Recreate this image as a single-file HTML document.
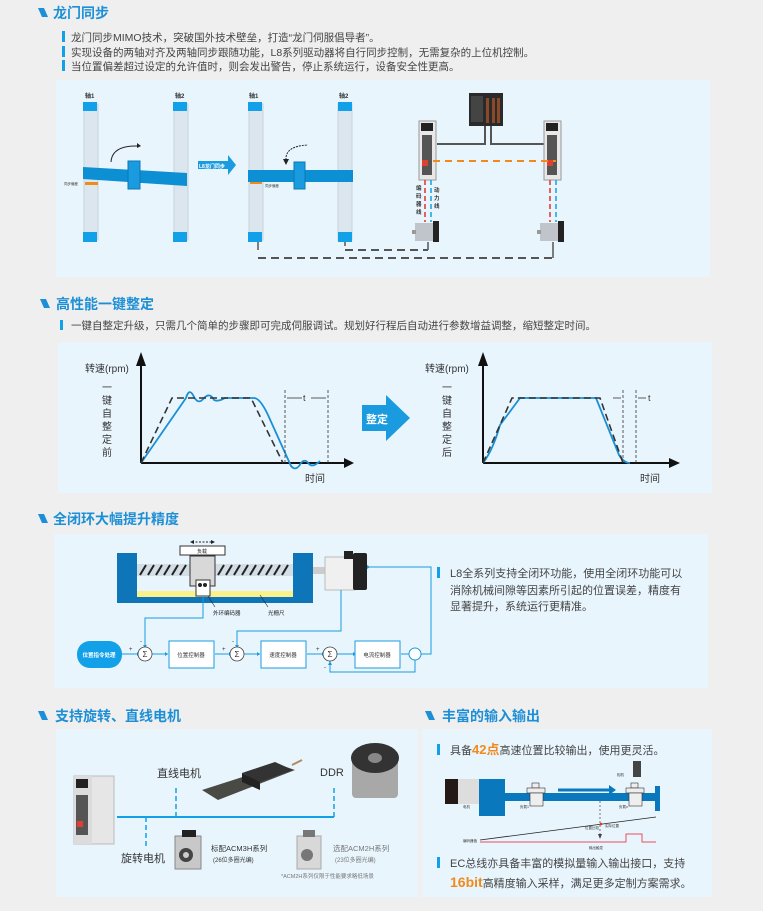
<!DOCTYPE html>
<html><head><meta charset="utf-8"><style>
html,body{margin:0;padding:0;background:#efefef;}
svg{display:block;font-family:"Liberation Sans","Noto Sans CJK SC",sans-serif;}
</style></head><body>
<svg width="763" height="911" viewBox="0 0 763 911" xmlns="http://www.w3.org/2000/svg">
<rect width="763" height="911" fill="#efefef"/>
<!-- Section 1 -->
<polygon points="38,8 44,8 48,17 42,17" fill="#1d8fd6"/>
<text x="53" y="18" font-size="14" font-weight="bold" fill="#1d8fd6">龙门同步</text>
<g font-size="10.5" fill="#444">
<rect x="62" y="31" width="3" height="11" fill="#12a0e8"/><text x="71" y="41">龙门同步MIMO技术，突破国外技术壁垒，打造“龙门伺服倡导者”。</text>
<rect x="62" y="46" width="3" height="11" fill="#12a0e8"/><text x="71" y="56">实现设备的两轴对齐及两轴同步跟随功能，L8系列驱动器将自行同步控制，无需复杂的上位机控制。</text>
<rect x="62" y="60" width="3" height="11" fill="#12a0e8"/><text x="71" y="70">当位置偏差超过设定的允许值时，则会发出警告，停止系统运行，设备安全性更高。</text>
</g>
<rect x="56" y="80" width="654" height="197" fill="#e8f5fd"/>
<g font-size="6" font-weight="bold" fill="#333">
<text x="85" y="98">轴1</text><text x="175" y="98">轴2</text><text x="249" y="98">轴1</text><text x="339" y="98">轴2</text></g>
<g fill="#dbe6ee" stroke="#c8d3dc">
<rect x="84" y="104" width="14" height="136"/><rect x="174" y="104" width="14" height="136"/>
<rect x="249" y="104" width="14" height="136"/><rect x="338" y="104" width="14" height="136"/></g>
<g fill="#12a0e8">
<rect x="83" y="102" width="14" height="9"/><rect x="173" y="102" width="14" height="9"/><rect x="83" y="232" width="14" height="10"/><rect x="173" y="232" width="14" height="10"/>
<rect x="248" y="102" width="14" height="9"/><rect x="338" y="102" width="14" height="9"/><rect x="248" y="232" width="14" height="10"/><rect x="338" y="232" width="14" height="10"/></g>
<polygon points="83,167 187,173 187,186 83,179" fill="#0d8fd3"/>
<rect x="128" y="161" width="12" height="28" fill="#1a9be0" stroke="#0b78b5"/>
<rect x="85" y="182" width="13" height="3" fill="#f08a1c"/>
<text x="64" y="185" font-size="3.5" fill="#333">同步偏差</text>
<path d="M111,162 Q112,145 139,146" stroke="#222" fill="none" stroke-width="1"/><polygon points="137,143 141,146 137,148" fill="#222"/>
<polygon points="198,161 228,161 228,155 236,165 228,175 228,169 198,169" fill="#1a9be0"/>
<text x="199" y="168" font-size="5" font-weight="bold" fill="#fff">L8龙门同步</text>
<rect x="248" y="170" width="105" height="12" fill="#0d8fd3"/>
<rect x="294" y="162" width="11" height="27" fill="#1a9be0" stroke="#0b78b5"/>
<rect x="250" y="182" width="12" height="2" fill="#f08a1c"/>
<text x="265" y="187" font-size="3.5" fill="#333">同步偏差</text>
<path d="M286,160 Q285,146 308,145" stroke="#222" fill="none" stroke-dasharray="2,1"/><polygon points="283,159 286,165 289,159" fill="#222"/>
<!-- controller -->
<rect x="469" y="93" width="34" height="33" fill="#2a2a2a"/>
<g fill="#8a4a2a"><rect x="486" y="98" width="3" height="25"/><rect x="492" y="98" width="3" height="25"/><rect x="497" y="98" width="3" height="25"/></g>
<rect x="471" y="96" width="12" height="26" fill="#444"/>
<g stroke="#555" stroke-width="2" fill="none"><path d="M485,126 V144 H437"/><path d="M491,126 V144 H545"/></g>
<!-- drivers -->
<g><rect x="419" y="121" width="17" height="59" fill="#e8e8e8" stroke="#999"/><rect x="421" y="123" width="12" height="8" fill="#222"/><rect x="422" y="135" width="10" height="40" fill="#555"/><rect x="422" y="160" width="6" height="6" fill="#e04030"/></g>
<g><rect x="544" y="121" width="17" height="59" fill="#e8e8e8" stroke="#999"/><rect x="546" y="123" width="12" height="8" fill="#222"/><rect x="547" y="135" width="10" height="40" fill="#555"/><rect x="547" y="160" width="6" height="6" fill="#e04030"/></g>
<line x1="433" y1="161" x2="556" y2="161" stroke="#f08a1c" stroke-width="2" stroke-dasharray="7,5"/>
<g stroke-width="1.5" stroke-dasharray="5,3"><line x1="425" y1="180" x2="425" y2="222" stroke="#e53030"/><line x1="431" y1="180" x2="431" y2="222" stroke="#12a0e8"/><line x1="550" y1="180" x2="550" y2="222" stroke="#e53030"/><line x1="556" y1="180" x2="556" y2="222" stroke="#12a0e8"/></g>
<g font-size="5.5" font-weight="bold" fill="#333"><text x="416" y="190">编</text><text x="416" y="198">码</text><text x="416" y="206">器</text><text x="416" y="214">线</text><text x="434" y="192">动</text><text x="434" y="200">力</text><text x="434" y="208">线</text></g>
<g><rect x="415" y="223" width="22" height="18" fill="#bfc5ca"/><rect x="433" y="221" width="6" height="21" fill="#222"/><rect x="412" y="230" width="4" height="4" fill="#999"/></g>
<g><rect x="540" y="223" width="22" height="18" fill="#bfc5ca"/><rect x="558" y="221" width="6" height="21" fill="#222"/><rect x="537" y="230" width="4" height="4" fill="#999"/></g>
<g stroke="#555" stroke-width="1.5" fill="none"><line x1="258" y1="242" x2="258" y2="250"/><line x1="345" y1="242" x2="345" y2="246"/><line x1="428" y1="242" x2="428" y2="250"/><line x1="553" y1="242" x2="553" y2="258"/></g>
<g stroke="#555" stroke-width="2" stroke-dasharray="8,5" fill="none"><path d="M345,250 H428"/><path d="M258,258 H553"/></g>

<!-- Section 2 -->
<polygon points="40,299 46,299 50,308 44,308" fill="#1d8fd6"/>
<text x="56" y="309" font-size="14" font-weight="bold" fill="#1d8fd6">高性能一键整定</text>
<rect x="60" y="320" width="3" height="10" fill="#12a0e8"/>
<text x="71" y="329" font-size="10.5" fill="#444">一键自整定升级，只需几个简单的步骤即可完成伺服调试。规划好行程后自动进行参数增益调整，缩短整定时间。</text>
<rect x="58" y="342" width="654" height="151" fill="#e8f5fd"/>
<g font-size="10" fill="#333">
<text x="85" y="372">转速(rpm)</text><text x="305" y="482">时间</text>
<text x="425" y="372">转速(rpm)</text><text x="640" y="482">时间</text></g>
<g font-size="10" fill="#333" text-anchor="middle">
<text x="107" y="391">一</text><text x="107" y="404">键</text><text x="107" y="417">自</text><text x="107" y="430">整</text><text x="107" y="443">定</text><text x="107" y="456">前</text>
<text x="447" y="391">一</text><text x="447" y="404">键</text><text x="447" y="417">自</text><text x="447" y="430">整</text><text x="447" y="443">定</text><text x="447" y="456">后</text></g>
<g stroke="#111" stroke-width="2"><line x1="141" y1="463" x2="141" y2="365"/><line x1="141" y1="463" x2="345" y2="463"/><line x1="483" y1="463" x2="483" y2="365"/><line x1="483" y1="463" x2="670" y2="463"/></g>
<g fill="#111"><polygon points="136,366 146,366 141,352"/><polygon points="344,458 344,468 354,463"/><polygon points="478,366 488,366 483,352"/><polygon points="669,458 669,468 680,463"/></g>
<path d="M141,463 L186,398 Q189,388 193,395 Q198,406 204,398 Q210,392 214,400 Q218,402 225,398 L254,398 Q260,398 268,415 L291,466 Q296,472 301,463 Q305,458 309,464 Q313,468 320,461" stroke="#1a8fd6" stroke-width="1.8" fill="none"/>
<path d="M141,463 L172,398 L251,398 L283,463" stroke="#333" stroke-width="1.6" fill="none" stroke-dasharray="7,4"/>
<g stroke="#333" stroke-width="0.8" stroke-dasharray="3,2"><line x1="285" y1="390" x2="285" y2="463"/><line x1="328" y1="390" x2="328" y2="463"/><line x1="623" y1="390" x2="623" y2="463"/><line x1="636" y1="390" x2="636" y2="463"/></g>
<g stroke="#333" stroke-width="0.8"><line x1="287" y1="398" x2="302" y2="398"/><line x1="311" y1="398" x2="326" y2="398"/><line x1="613" y1="398" x2="621" y2="398"/><line x1="638" y1="398" x2="646" y2="398"/></g>
<text x="303" y="401" font-size="9" fill="#333">t</text><text x="648" y="401" font-size="9" fill="#333">t</text>
<path d="M483,463 Q493,450 500,425 L520,398 L596,398 L619,455 Q624,463 630,463" stroke="#1a8fd6" stroke-width="1.8" fill="none"/>
<path d="M483,463 L512,398 L600,398 L623,463" stroke="#333" stroke-width="1.6" fill="none" stroke-dasharray="7,4"/>
<polygon points="362,405 386,405 386,395 410,418 386,441 386,431 362,431" fill="#1a9be0"/>
<text x="366" y="423" font-size="11" font-weight="bold" fill="#fff">整定</text>

<!-- Section 3 -->
<polygon points="38,514 44,514 48,523 42,523" fill="#1d8fd6"/>
<text x="53" y="524" font-size="14" font-weight="bold" fill="#1d8fd6">全闭环大幅提升精度</text>
<rect x="54" y="534" width="654" height="154" fill="#e8f5fd"/>
<path d="M117,553 H137 V591 H293 V553 H313 V603 H117 Z" fill="#0e76b8"/>
<rect x="137" y="564" width="156" height="12" fill="#d3dde5"/>
<g stroke="#222" stroke-width="2"><path d="M140,575 l6,-10 M148,575 l6,-10 M156,575 l6,-10 M164,575 l6,-10 M172,575 l6,-10 M180,575 l6,-10 M218,575 l6,-10 M226,575 l6,-10 M234,575 l6,-10 M242,575 l6,-10 M250,575 l6,-10 M258,575 l6,-10 M266,575 l6,-10 M274,575 l6,-10 M282,575 l6,-10"/></g>
<rect x="137" y="591" width="156" height="6" fill="#fbf08a"/>
<rect x="190" y="556" width="25" height="30" fill="#d8d8d8" stroke="#333"/>
<rect x="180" y="546" width="45" height="9" fill="#fff" stroke="#333"/>
<text x="202" y="553" font-size="5" text-anchor="middle" fill="#222">负载</text>
<path d="M192,542 H213" stroke="#222" stroke-dasharray="2,1.5"/><polygon points="190,542 194,540 194,544" fill="#222"/><polygon points="215,542 211,540 211,544" fill="#222"/>
<rect x="196" y="580" width="14" height="16" fill="#fff" stroke="#333"/><circle cx="200" cy="585" r="2" fill="#222"/><circle cx="205" cy="585" r="2" fill="#222"/>
<line x1="208" y1="596" x2="215" y2="607" stroke="#222" stroke-width="0.6"/><line x1="260" y1="595" x2="268" y2="607" stroke="#222" stroke-width="0.6"/>
<text x="213" y="615" font-size="5.5" fill="#222">外环编码器</text><text x="268" y="615" font-size="5.5" fill="#222">光栅尺</text>
<rect x="313" y="567" width="14" height="7" fill="#ccc"/>
<rect x="325" y="557" width="30" height="33" fill="#f0f0f0" stroke="#bbb"/><rect x="353" y="553" width="14" height="37" fill="#222" rx="2"/><rect x="344" y="551" width="9" height="8" fill="#222"/>
<g stroke="#1a9be0" stroke-width="1" fill="none">
<path d="M203,596 V618 H145 V645"/><path d="M341,590 V631 H237 V645"/><path d="M369,567 H431 V654 H421"/>
<path d="M122,654 H138"/><path d="M152,654 H168"/><path d="M215,654 H230"/><path d="M244,654 H260"/><path d="M307,654 H323"/><path d="M337,654 H356"/><path d="M401,654 H409"/>
<path d="M415,660 V672 H330 V661"/></g>
<g fill="#1a9be0"><polygon points="143,645 147,645 145,648"/><polygon points="235,645 239,645 237,648"/><polygon points="328,665 332,665 330,661"/><polygon points="137,652 137,656 140,654"/><polygon points="229,652 229,656 232,654"/><polygon points="322,652 322,656 325,654"/><polygon points="165,652 165,656 168,654"/><polygon points="257,652 257,656 260,654"/><polygon points="353,652 353,656 356,654"/><polygon points="367,565 367,569 370,567"/></g>
<rect x="77" y="641" width="45" height="27" rx="13" fill="#12a0e8"/>
<text x="99" y="657" font-size="5.5" font-weight="bold" fill="#fff" text-anchor="middle">位置指令处理</text>
<g fill="#fff" stroke="#444" stroke-width="0.8"><circle cx="145" cy="654" r="7"/><circle cx="237" cy="654" r="7"/><circle cx="330" cy="654" r="7"/></g>
<g font-size="8" fill="#333" text-anchor="middle"><text x="145" y="657">Σ</text><text x="237" y="657">Σ</text><text x="330" y="657">Σ</text></g>
<g fill="#fff" stroke="#1a9be0"><rect x="169" y="641" width="45" height="27"/><rect x="261" y="641" width="45" height="27"/><rect x="355" y="641" width="45" height="27"/><circle cx="415" cy="654" r="6"/></g>
<g font-size="5.5" fill="#333" text-anchor="middle"><text x="191" y="657">位置控制器</text><text x="283" y="657">速度控制器</text><text x="377" y="657">电流控制器</text></g>
<g font-size="6" fill="#333"><text x="129" y="651">+</text><text x="140" y="643">-</text><text x="222" y="651">+</text><text x="232" y="643">-</text><text x="316" y="651">+</text><text x="324" y="669">-</text></g>
<rect x="437" y="567" width="3" height="11" fill="#12a0e8"/>
<g font-size="11" fill="#444"><text x="450" y="577">L8全系列支持全闭环功能，使用全闭环功能可以</text><text x="450" y="594">消除机械间隙等因素所引起的位置误差，精度有</text><text x="450" y="610">显著提升，系统运行更精准。</text></g>

<!-- Section 4 -->
<polygon points="38,711 44,711 48,720 42,720" fill="#1d8fd6"/>
<text x="55" y="721" font-size="14" font-weight="bold" fill="#1d8fd6">支持旋转、直线电机</text>
<polygon points="425,711 431,711 435,720 429,720" fill="#1d8fd6"/>
<text x="442" y="721" font-size="14" font-weight="bold" fill="#1d8fd6">丰富的输入输出</text>
<rect x="56" y="729" width="362" height="168" fill="#e8f5fd"/>
<rect x="422" y="729" width="290" height="168" fill="#e8f5fd"/>
<rect x="74" y="776" width="40" height="68" fill="#e6e6e6" stroke="#bbb"/><rect x="74" y="776" width="18" height="68" fill="#dcdcdc"/><rect x="76" y="779" width="12" height="9" fill="#222"/><rect x="76" y="795" width="12" height="40" fill="#555"/><rect x="77" y="821" width="6" height="6" fill="#e04030"/>
<line x1="117" y1="817" x2="334" y2="817" stroke="#12a0e8" stroke-width="2"/>
<g stroke="#12a0e8" stroke-width="1.5" stroke-dasharray="5,3"><line x1="176" y1="788" x2="176" y2="817"/><line x1="334" y1="788" x2="334" y2="817"/><line x1="146" y1="817" x2="146" y2="846"/></g>
<g font-size="11" fill="#333"><text x="157" y="777">直线电机</text><text x="320" y="776">DDR</text><text x="121" y="862">旋转电机</text></g>
<polygon points="202,790 280,765 295,770 218,800" fill="#4a4a44"/>
<polygon points="242,773 275,762 293,770 260,782" fill="#333"/><polygon points="242,773 260,782 260,790 242,782" fill="#222"/>
<path d="M292,765 L302,760" stroke="#b58a60" stroke-width="2"/>
<rect x="352" y="758" width="46" height="40" fill="#a8a8a8" rx="4"/><ellipse cx="375" cy="758" rx="24" ry="15" fill="#333"/><ellipse cx="375" cy="758" rx="7" ry="5" fill="#888"/>
<rect x="175" y="836" width="26" height="33" fill="#c8c8c8" stroke="#888"/><circle cx="186" cy="855" r="7" fill="#444"/><circle cx="186" cy="855" r="3" fill="#ccc"/><rect x="182" y="830" width="14" height="7" fill="#222"/>
<rect x="297" y="836" width="24" height="33" fill="#d8d8d8" stroke="#aaa"/><circle cx="307" cy="855" r="6" fill="#777"/><rect x="303" y="830" width="12" height="7" fill="#777"/>
<g font-size="7.5" fill="#333"><text x="211" y="851">标配ACM3H系列</text><text x="213" y="862" font-size="6">(26位多圈光编)</text></g>
<g font-size="7.5" fill="#777"><text x="333" y="851">选配ACM2H系列</text><text x="335" y="862" font-size="6">(23位多圈光编)</text><text x="281" y="878" font-size="5.5">*ACM2H系列仅限于性能要求略低场景</text></g>
<rect x="437" y="744" width="3" height="11" fill="#12a0e8"/>
<text x="450" y="754" font-size="11" fill="#444">具备<tspan fill="#f08a1c" font-weight="bold" font-size="13">42点</tspan>高速位置比较输出，使用更灵活。</text>
<rect x="445" y="779" width="34" height="25" fill="#ddd"/><rect x="445" y="779" width="13" height="25" fill="#231a18"/>
<rect x="479" y="779" width="26" height="37" fill="#0a78bd"/>
<rect x="505" y="793" width="153" height="8" fill="#0a78bd"/><rect x="655" y="786" width="5" height="25" fill="#0a78bd"/>
<g fill="#eee" stroke="#333" stroke-width="0.6"><rect x="532" y="783" width="7" height="5"/><rect x="527" y="788" width="18" height="5"/><rect x="530" y="793" width="13" height="13"/><rect x="631" y="783" width="7" height="5"/><rect x="626" y="788" width="18" height="5"/><rect x="629" y="793" width="13" height="13"/></g>
<rect x="633" y="761" width="8" height="16" fill="#444"/>
<line x1="558" y1="790" x2="610" y2="790" stroke="#0a78bd" stroke-width="3"/><polygon points="609,785 616,790 609,795" fill="#0a78bd"/>
<line x1="600" y1="801" x2="600" y2="836" stroke="#444" stroke-width="0.7" stroke-dasharray="2,2"/><polygon points="598,834 602,834 600,839" fill="#444"/>
<line x1="480" y1="840" x2="656" y2="817" stroke="#222" stroke-width="0.8"/><circle cx="601" cy="824" r="1.3" fill="#e53030"/>
<path d="M480,842 H626 V834 H642 V842 H656" stroke="#e85060" stroke-width="1" fill="none"/>
<g font-size="3.5" fill="#333"><text x="463" y="808">电机</text><text x="520" y="808">负载1</text><text x="619" y="808">负载n</text><text x="617" y="776">相机</text><text x="463" y="842">编码器值</text><text x="585" y="829">位置比较</text><text x="605" y="827">实际位置</text><text x="589" y="849">输出触发</text></g>
<rect x="437" y="857" width="3" height="11" fill="#12a0e8"/>
<text x="450" y="867" font-size="11" fill="#444">EC总线亦具备丰富的模拟量输入输出接口，支持</text>
<text x="450" y="887" font-size="11" fill="#444"><tspan fill="#f08a1c" font-weight="bold" font-size="14">16bit</tspan>高精度输入采样，满足更多定制方案需求。</text>
</svg>
</body></html>
